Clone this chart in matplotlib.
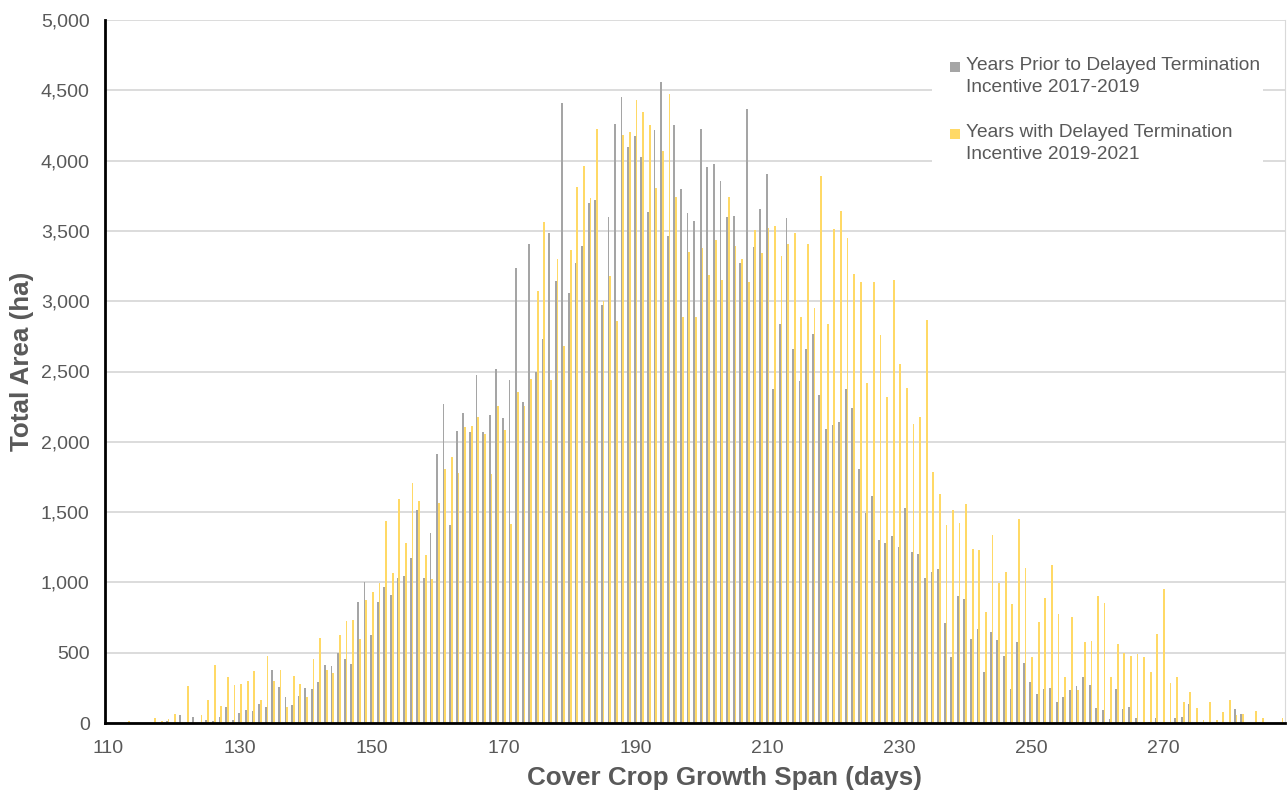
import numpy as np
import matplotlib
matplotlib.use("Agg")
import matplotlib.pyplot as plt
from matplotlib.patches import Rectangle
from matplotlib.ticker import FuncFormatter

days = list(range(110, 289))

# total area (ha) per growth span
prior = [
    0, 0, 0, 0, 0, 0, 0, 0, 0, 15,              # 110-119
    0, 55, 3, 43, 0, 24, 17, 43, 112, 19,       # 120-129
    69, 95, 83, 133, 114, 374, 257, 183, 131, 190,   # 130-139
    252, 240, 293, 412, 405, 500, 455, 417, 860, 1005,   # 140-149
    626, 864, 967, 910, 1033, 1043, 1174, 1514, 1029, 1352,   # 150-159
    1910, 2269, 1405, 2076, 2205, 2069, 2476, 2071, 2193, 2519,   # 160-169
    2171, 2440, 3233, 2283, 3407, 2498, 2733, 3485, 3143, 4410,   # 170-179
    3055, 3271, 3395, 3698, 3720, 2975, 3602, 4261, 4452, 4094,   # 180-189
    4177, 4023, 3633, 4218, 4558, 3466, 4252, 3797, 3630, 3568,   # 190-199
    4227, 3952, 3976, 3856, 3602, 3608, 3271, 4369, 3389, 3658,   # 200-209
    3902, 2372, 2835, 3593, 2662, 2430, 2662, 2764, 2334, 2090,   # 210-219
    2121, 2140, 2372, 2241, 1805, 1497, 1615, 1300, 1281, 1332,   # 220-229
    1254, 1532, 1214, 1201, 1032, 1072, 1096, 711, 468, 904,      # 230-239
    880, 596, 667, 362, 648, 590, 479, 245, 574, 429,             # 240-249
    295, 207, 240, 252, 150, 183, 233, 264, 324, 269,             # 250-259
    105, 95, 31, 240, 98, 112, 33, 0, 10, 33,                     # 260-269
    0, 0, 38, 40, 133, 0, 0, 0, 0, 0,                             # 270-279
    0, 102, 62, 0, 0, 0, 0, 0, 0,                                 # 280-288
]
delayed = [
    0, 0, 0, 15, 0, 0, 0, 38, 12, 25,           # 110-119
    67, 5, 262, 5, 55, 167, 412, 124, 324, 269,  # 120-129
    274, 298, 367, 162, 474, 298, 376, 114, 333, 276,   # 130-139
    186, 452, 602, 376, 355, 626, 729, 733, 595, 876,   # 140-149
    929, 998, 1440, 1069, 1595, 1281, 1710, 1581, 1198, 1026,   # 150-159
    1562, 1805, 1895, 1776, 2107, 2112, 2176, 2052, 1769, 2257,   # 160-169
    2083, 1417, 2357, 2255, 2450, 3074, 3563, 2436, 3298, 2679,   # 170-179
    3364, 3812, 3961, 3735, 4224, 3002, 3179, 2857, 4183, 4202,   # 180-189
    4431, 4347, 4252, 3806, 4069, 4477, 3744, 2891, 3352, 2891,   # 190-199
    3376, 3185, 3435, 3148, 3738, 3395, 3299, 3138, 3506, 3342,   # 200-209
    3519, 3534, 3324, 3404, 3485, 2891, 3404, 2953, 3887, 2835,   # 210-219
    3512, 3642, 3448, 3190, 3139, 2415, 3139, 2760, 2316, 3153,   # 220-229
    2554, 2383, 2129, 2174, 2869, 1784, 1631, 1407, 1513, 1425,   # 230-239
    1559, 1238, 1229, 790, 1340, 995, 1076, 848, 1448, 1102,      # 240-249
    467, 719, 888, 1126, 776, 326, 755, 233, 576, 581,            # 250-259
    900, 850, 326, 560, 495, 476, 490, 467, 362, 633,             # 260-269
    955, 283, 324, 152, 219, 105, 19, 152, 19, 79,                # 270-279
    167, 55, 62, 0, 83, 38, 0, 0, 36,                             # 280-288
]

labels = ["Years Prior to Delayed Termination\nIncentive 2017-2019",
          "Years with Delayed Termination\nIncentive 2019-2021"]
gray = "#A5A5A5"
gold = "#FFD966"
txt = "#595959"

plt.rcParams["font.family"] = ["Liberation Sans", "DejaVu Sans"]

fig = plt.figure(figsize=(12.88, 7.94), dpi=100)
ax = fig.add_axes([105/1288, 71/794, 1180/1288, 703/794])

x = np.array(days)
w = 0.27
ax.bar(x - w/2, prior, width=w, color=gray, lw=0, antialiased=False, zorder=2)
ax.bar(x + w/2, delayed, width=w, color=gold, lw=0, antialiased=False, zorder=2)

ax.set_xlim(109.5, 288.5)
ax.set_ylim(0, 5000)
ax.set_yticks(np.arange(0, 5001, 500))
ax.set_xticks(np.arange(110, 271, 20))
ax.yaxis.set_major_formatter(FuncFormatter(lambda v, p: f"{int(v):,}"))
ax.grid(axis="y", color="#D9D9D9", lw=1.3, zorder=0)
ax.tick_params(length=0, labelsize=14, labelcolor=txt)
ax.tick_params(axis="y", pad=11)
ax.tick_params(axis="x", pad=12)

for s in ["left", "bottom"]:
    ax.spines[s].set_linewidth(2)
    ax.spines[s].set_color("black")
ax.spines["top"].set_visible(False)
ax.spines["right"].set_color("#D9D9D9")

fig.text(724/1288, 1 - 778/794, "Cover Crop Growth Span (days)", fontsize=18.7,
         fontweight="bold", color=txt, ha="center", va="center")
fig.text(22/1288, 1 - 361/794, "Total Area (ha)", fontsize=18.7, rotation=90,
         fontweight="bold", color=txt, ha="center", va="center")

# legend drawn by hand so the swatch sits on the first line
def ax_xy(px, py):
    return (px - 105) / 1180, (723 - py) / 703

x0, y0 = ax_xy(932, 182)
x1, y1 = ax_xy(1263, 48)
ax.add_patch(Rectangle((x0, y0), x1 - x0, y1 - y0, transform=ax.transAxes,
                       facecolor="white", edgecolor="none", zorder=3))
for lab, col, top in zip(labels, [gray, gold], [57, 124]):
    sx, sy = ax_xy(950, top + 15)
    sx2, sy2 = ax_xy(960, top + 5)
    ax.add_patch(Rectangle((sx, sy), sx2 - sx, sy2 - sy, transform=ax.transAxes,
                           facecolor=col, edgecolor="none", zorder=4))
    tx, ty = ax_xy(966, top)
    ax.text(tx, ty, lab, transform=ax.transAxes, ha="left", va="top",
            fontsize=13.8, color=txt, linespacing=1.38, zorder=5)

fig.savefig("out.png", dpi=100)
